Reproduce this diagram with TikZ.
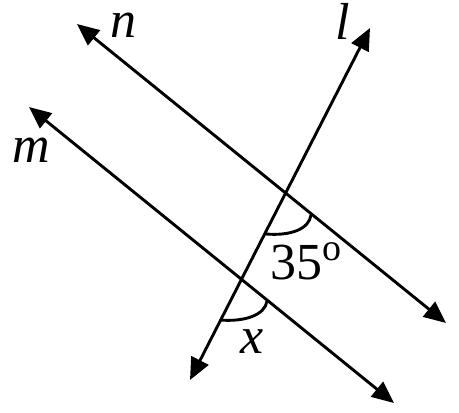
\documentclass[tikz,border=0pt]{standalone}
\usepackage{fontspec}
\setmainfont{Liberation Serif}
\usetikzlibrary{arrows.meta}
\begin{document}
\begin{tikzpicture}[x=0.5pt, y=-0.5pt, every node/.style={font=\fontsize{26}{30}\selectfont, inner sep=0pt, anchor=base}]
\tikzset{ray/.style={line width=1.45pt, {Triangle[length=11pt,width=9.5pt]}-{Triangle[length=11pt,width=9.5pt]}}}
\tikzset{angmark/.style={line width=1.45pt}}
\useasboundingbox (0,0) rectangle (459,412);
% ends of the three lines
\coordinate (n1) at (77,24);
\coordinate (n2) at (446,323);
\coordinate (m1) at (29,107);
\coordinate (m2) at (394,403);
\coordinate (l1) at (190,380);
\coordinate (l2) at (370,28);
\draw [ray] (n1) -- (n2);
\draw [ray] (m1) -- (m2);
\draw [ray] (l1) -- (l2);
% angle marks
\draw [angmark] (266,234) .. controls (291,236) and (309,229) .. (311,215);
\draw [angmark] (220,320) .. controls (245,322) and (265,315) .. (267,301);
% labels
\node (labn) at (123,37) {\textit{n}};
\node (labm) at (31,162) {\textit{m}};
\node (labl) at (343,39) {\textit{l}};
\node (lab35) at (306,279) {35\raisebox{0.35em}{\fontsize{19}{20}\selectfont o}};
\node (labx) at (252,353) {\textit{x}};
\end{tikzpicture}
\end{document}
